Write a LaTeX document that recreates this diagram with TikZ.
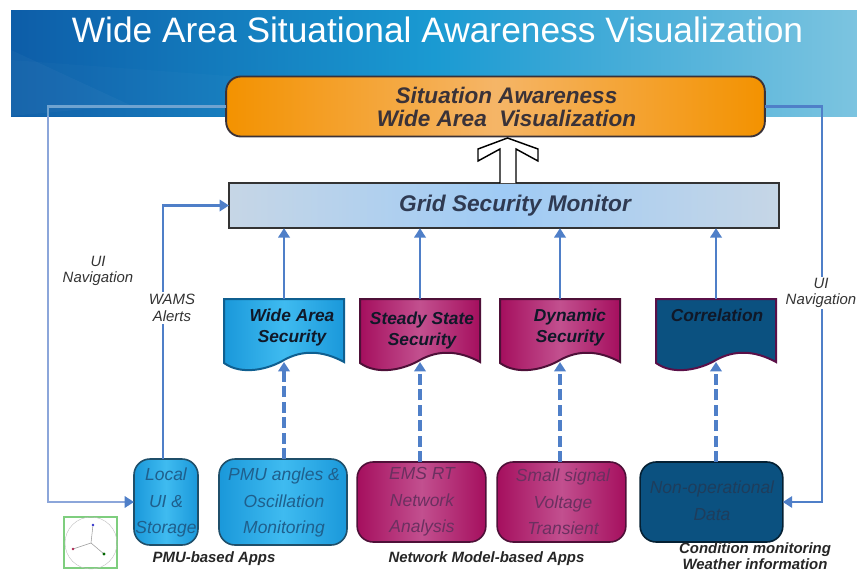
\documentclass[tikz,border=0pt]{standalone}
\usepackage{fontspec}
\setmainfont{Liberation Sans}
\usetikzlibrary{arrows.meta,calc}
\definecolor{flowblue}{HTML}{4F7FC8}
\definecolor{navpale}{HTML}{8CA6DA}
\definecolor{navdim}{HTML}{6FA3D0}
\definecolor{hdA}{HTML}{0D5DA8}
\definecolor{hdB}{HTML}{1A9AD2}
\definecolor{hdC}{HTML}{7CC4E0}
\definecolor{orgA}{HTML}{F39200}
\definecolor{orgB}{HTML}{F5B567}
\definecolor{gsmA}{HTML}{C6D6E6}
\definecolor{gsmB}{HTML}{9FCBF5}
\definecolor{cyanA}{HTML}{1A98DA}
\definecolor{cyanB}{HTML}{3FBBF0}
\definecolor{magA}{HTML}{A50F5E}
\definecolor{magB}{HTML}{C2508F}
\definecolor{navy}{HTML}{0B5180}
\definecolor{inkA}{HTML}{3A3238}
\definecolor{inkB}{HTML}{2F3A52}
\definecolor{inkC}{HTML}{101828}
\definecolor{inkCy}{HTML}{1F5F8C}
\definecolor{inkMa}{HTML}{6B3060}
\definecolor{inkNa}{HTML}{1E3D5C}
\definecolor{edgeCy}{HTML}{0F5F90}
\definecolor{edgeCy2}{HTML}{1F4F6A}
\definecolor{edgeMa}{HTML}{4E1038}
\definecolor{edgeNa}{HTML}{5A1048}
\tikzset{
  x=0.75pt,y=-0.75pt,
  flow/.style={draw=flowblue,line width=1.7pt,-{Triangle[width=8.5pt,length=7pt]}},
  flowdash/.style={flow,line width=2.3pt,dash pattern=on 8pt off 3.6pt},
  navline/.style={draw=navpale,line width=1.6pt,-{Triangle[width=8.5pt,length=7pt,color=flowblue]}},
  doctext/.style={font=\bfseries\itshape\fontsize{13}{15.5}\selectfont,align=center,text=inkC,inner sep=0pt},
  apptext/.style={font=\itshape\fontsize{13.1}{20}\selectfont,align=center,inner sep=0pt},
  caption/.style={font=\bfseries\itshape\fontsize{11.2}{11.6}\selectfont,align=center,text=black!85,inner sep=0pt},
  sidelabel/.style={font=\itshape\fontsize{11.2}{12.5}\selectfont,align=center,text=black!80,inner sep=0pt},
  appbox/.style={draw=#1,line width=1.2pt,rounded corners=12pt,inner sep=0pt,outer sep=0pt},
  topfont/.style={font=\bfseries\itshape\fontsize{16.9}{17.2}\selectfont,inner sep=0pt},
}
% #1 name, #2 centre x, #3 side colour, #4 middle colour, #5 border
\newcommand{\docshape}[5]{%
  \path[draw=#5,line width=1.5pt,left color=#3,right color=#3,middle color=#4]
    (#2-60,299) -- (#2+60,299) -- (#2+60,362)
    .. controls (#2+38,350) and (#2+18,350) .. (#2,360)
    .. controls (#2-15,369) and (#2-42,376) .. (#2-60,363) -- cycle;
  \node[inner sep=0pt,outer sep=0pt,minimum width=90pt,minimum height=48pt] (#1) at (#2,331) {};
}
\begin{document}
\begin{tikzpicture}
\useasboundingbox (0,0) rectangle (857,571);
% header
\shade[left color=hdA,right color=hdC,middle color=hdB] (11,10) rectangle (857,116);
\fill[white,opacity=.03] (11,50) -- (130,105) -- (11,116) -- cycle;
\fill[white,opacity=.02] (11,60) -- (420,90) -- (420,116) -- (11,116) -- cycle;
\node[font=\fontsize{26.5}{30}\selectfont,text=white,inner sep=0pt] (title) at (437.5,30) {Wide Area Situational Awareness Visualization};
% top boxes
\node[draw=inkA,line width=1.4pt,rounded corners=11pt,left color=orgA,right color=orgA,middle color=orgB,
  minimum width=404pt,minimum height=45pt,inner sep=0pt,outer sep=0pt] (sa) at (495.5,106.5) {};
\node[topfont,text=inkA] (sa1) at (506.5,95) {Situation Awareness};
\node[topfont,text=inkA] (sa2) at (506.5,118) {Wide Area\ \ Visualization};
\node[draw=black!80,line width=1.5pt,left color=gsmA,right color=gsmA,middle color=gsmB,
  minimum width=412.5pt,minimum height=34pt,inner sep=0pt,outer sep=0pt] (gsm) at (504,205.5) {};
\node[font=\bfseries\itshape\fontsize{17}{20}\selectfont,text=inkB,inner sep=0pt] (gsmt) at (515,206) {Grid Security Monitor};
% hollow up arrow
\draw[black,line width=1.1pt,fill=white,line join=miter]
  (500,183) -- (500,149) -- (478,161) -- (478,149) -- (507.5,138) -- (538,149) -- (538,161) -- (516,149) -- (516,183);
% documents
\docshape{dA}{284}{cyanA}{cyanB}{edgeCy}
\docshape{dB}{420}{magA}{magB}{edgeMa}
\docshape{dC}{560}{magA}{magB}{edgeMa}
\docshape{dD}{716}{navy}{navy}{edgeNa}
\node[doctext] (tA) at (292,327.5) {Wide Area\\Security};
\node[doctext] (tB) at (422,330.5) {Steady State\\Security};
\node[doctext] (tC) at (570,327.5) {Dynamic\\Security};
\node[doctext] (tD) at (717,315.5) {Correlation};
% application boxes
\node[appbox=edgeCy2,left color=cyanA,right color=cyanA,middle color=cyanB,minimum width=48pt,minimum height=64.5pt] (bL) at (166,502) {};
\node[apptext,text=inkCy] (tL) at (166,502.5) {Local\\UI \&\\Storage};
\node[appbox=edgeCy2,left color=cyanA,right color=cyanA,middle color=cyanB,minimum width=96pt,minimum height=64.5pt] (bP) at (283,502) {};
\node[apptext,text=inkCy] (tP) at (284,502.5) {PMU angles \&\\Oscillation\\Monitoring};
\node[appbox=edgeMa,left color=magA,right color=magA,middle color=magB,minimum width=96.5pt,minimum height=60pt] (bE) at (421.5,502) {};
\node[apptext,text=inkMa] (tE) at (422,502) {EMS RT\\Network\\Analysis};
\node[appbox=edgeMa,left color=magA,right color=magA,middle color=magB,minimum width=96.5pt,minimum height=60pt] (bS) at (561.5,502) {};
\node[apptext,text=inkMa] (tS) at (563,502) {Small signal\\Voltage\\Transient};
\node[appbox=black!60!navy,fill=navy,minimum width=107pt,minimum height=60pt] (bN) at (711.5,502) {};
\node[apptext,text=inkNa] (tN) at (712,500.5) {Non-operational\\Data};
% vertical connectors
\draw[flow] (dA.north |- 0,299) -- (dA.north |- gsm.south);
\draw[flow] (dB.north |- 0,299) -- (dB.north |- gsm.south);
\draw[flow] (dC.north |- 0,299) -- (dC.north |- gsm.south);
\draw[flow] (dD.north |- 0,299) -- (dD.north |- gsm.south);
\coordinate (dAb) at (dA.center |- 0,362);
\coordinate (dBb) at (dB.center |- 0,362);
\coordinate (dCb) at (dC.center |- 0,362);
\coordinate (dDb) at (dD.center |- 0,362);
\draw[flowdash] (dAb |- bP.north) -- (dAb);
\draw[flowdash] (dBb |- bE.north) -- (dBb);
\draw[flowdash] (dCb |- bS.north) -- (dCb);
\draw[flowdash] (dDb |- bN.north) -- (dDb);
% WAMS alerts
\draw[flow] ([xshift=-2.25pt]bL.north) |- (gsm.west);
\node[sidelabel,fill=white,inner ysep=2pt] (wams) at (172,308) {WAMS\\Alerts};
% UI navigation
\coordinate (navL) at (48,300);
\coordinate (navR) at (822,300);
\draw[navline] (sa.west) -| (navL) |- (bL.west);
\draw[navdim,line width=1.6pt] (sa.west) -| (48,116);
\draw[flow] (sa.east) -| (navR) |- (bN.east);
\node[sidelabel] (uiL) at (98,271) {UI\\Navigation};
\node[sidelabel,fill=white,inner ysep=1pt] (uiR) at (821,293) {UI\\Navigation};
% captions
\node[caption] (cA) at (214,559) {PMU-based Apps};
\node[caption] (cB) at (486.5,559) {Network Model-based Apps};
\node[caption] (cC) at (755,556) {Condition monitoring\\Weather information};
% polar inset
\draw[green!45!gray!70,line width=.8pt,fill=white] (64,517) rectangle (117,568);
\draw[black!25,line width=.3pt] (91,543) circle[radius=26];
\draw[black!40,line width=.4pt] (91,543) -- (93,525);
\draw[black!40,line width=.4pt] (91,543) -- (73,549);
\draw[black!40,line width=.4pt] (91,543) -- (104,554);
\fill[blue!60!gray] (93,525) circle[radius=1.3];
\fill[purple!70!gray] (73,549) circle[radius=1.3];
\fill[green!40!black] (104,554) circle[radius=1.6];
\end{tikzpicture}
\end{document}
